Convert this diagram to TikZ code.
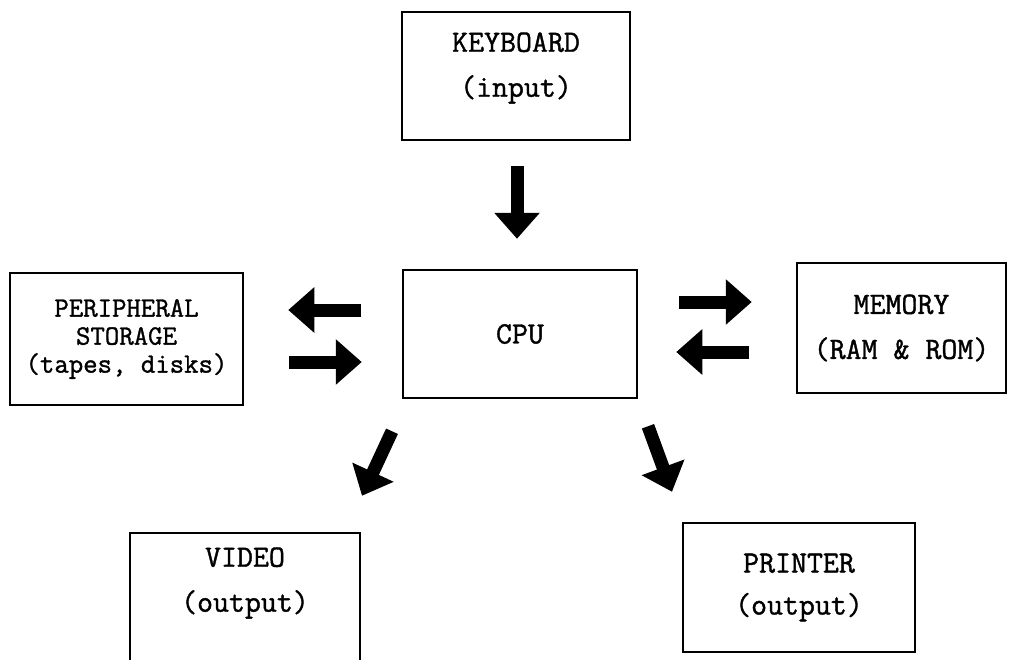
\documentclass[tikz,border=0pt]{standalone}
\usepackage{fontspec}
\newfontfamily\tw{Latin Modern Mono}[FakeBold=1.2]
\usetikzlibrary{arrows.meta,calc}

\tikzset{
  frame/.style={draw=black, line width=2.5pt, fill=none, inner sep=0pt},
  caption/.style={font=\tw\fontsize{31}{45}\selectfont, align=center, inner sep=0pt},
  flow/.style={line width=13pt, -{Triangle[length=26pt,width=44pt]}},
}

\begin{document}
\begin{tikzpicture}[x=1pt,y=-1pt]
  \fill[white] (0,0) rectangle (1015,659);
  \useasboundingbox (0,0) rectangle (1015,659);
  \clip (0,0) rectangle (1015,659);

  % boxes
  \node[frame, minimum width=228pt, minimum height=128pt] (kbd) at (516,76) {};
  \node[caption] (kbdtxt) at (516,68) {KEYBOARD\\(input)};

  \node[frame, caption, font=\tw\fontsize{28}{28}\selectfont,
        minimum width=233pt, minimum height=132pt] (per) at (126.5,339)
        {PERIPHERAL\\STORAGE\\(tapes, disks)};

  \node[frame, caption, minimum width=234pt, minimum height=128pt] (cpu) at (520,334) {CPU};

  \node[frame, caption, minimum width=209pt, minimum height=130pt] (mem) at (901.5,328)
        {MEMORY\\(RAM \& ROM)};

  \node[frame, minimum width=230pt, minimum height=157pt] (vid) at (245,611.5) {};
  \node[caption] (vidtxt) at (245,583) {VIDEO\\(output)};

  \node[frame, caption, font=\tw\fontsize{31}{42}\selectfont,
        minimum width=232pt, minimum height=129pt] (prn) at (799,587.5)
        {PRINTER\\(output)};

  % data flow
  \draw[flow] ($(kbd.south)+(1,25)$) -- ($(cpu.north)+(-3,-30)$);

  \draw[flow] ($(cpu.west)+(-41,-24)$) -- ($(per.east)+(44,-29)$);
  \draw[flow] ($(per.east)+(45,23)$) -- ($(cpu.west)+(-40,28)$);

  \draw[flow] ($(cpu.east)+(41,-32)$) -- ($(mem.west)+(-44,-26)$);
  \draw[flow] ($(mem.west)+(-47,24)$) -- ($(cpu.east)+(38,18)$);

  \draw[flow] ($(cpu.south)+(-128,32)$) -- ($(vid.north)+(117,-36)$);
  \draw[flow] ($(cpu.south)+(128,27)$) -- ($(prn.north)+(-127,-30)$);
\end{tikzpicture}
\end{document}
